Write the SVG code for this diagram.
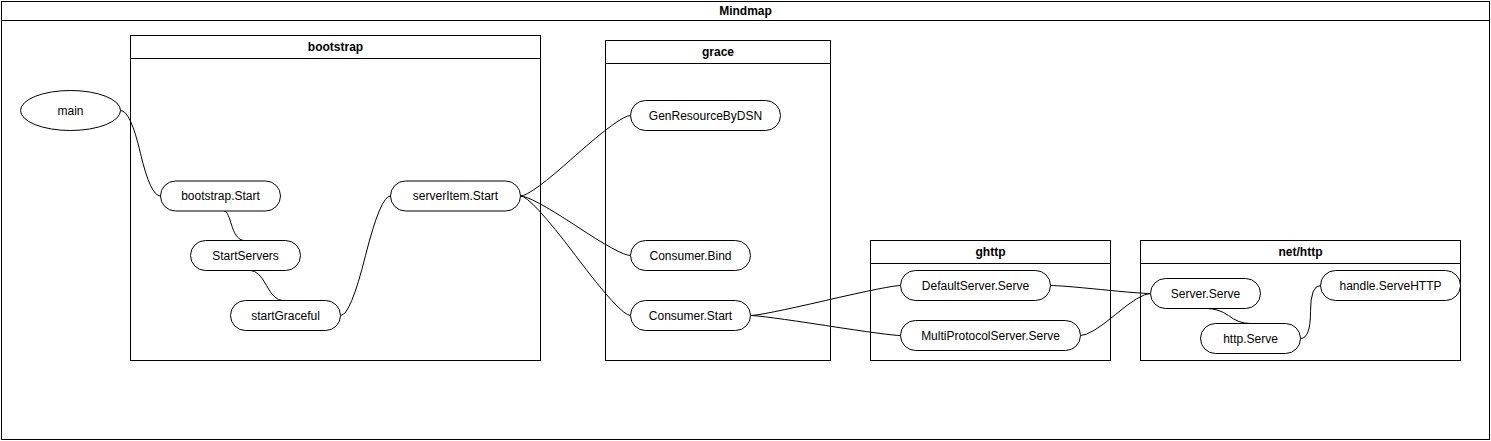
<svg xmlns="http://www.w3.org/2000/svg" width="1491" height="441" viewBox="0 0 1491 441">
<style>
.box{fill:#fff;stroke:#000;stroke-width:1}
.hdr{fill:none;stroke:#000;stroke-width:1}
.node{fill:#fff;stroke:#000;stroke-width:1}
.title{font-family:"Liberation Sans",Arial,sans-serif;font-size:12px;font-weight:bold;fill:#000;text-anchor:middle;dominant-baseline:central}
.lbl{font-family:"Liberation Sans",Arial,sans-serif;font-size:12px;fill:#000;text-anchor:middle;dominant-baseline:central}
.edge{fill:none;stroke:#000;stroke-width:1}
</style>
<rect width="1491" height="441" fill="#fff"/>
<g id="frame-mindmap">
<rect class="box" x="1.5" y="1.5" width="1488" height="438"/>
<line class="hdr" x1="1.5" y1="20.5" x2="1489.5" y2="20.5"/>
<text class="title" x="745.5" y="11">Mindmap</text>
</g>
<g id="lane-bootstrap">
<rect class="box" x="130.5" y="35.5" width="410" height="325"/>
<line class="hdr" x1="130.5" y1="58.5" x2="540.5" y2="58.5"/>
<text class="title" x="335.5" y="47">bootstrap</text>
</g>
<g id="lane-grace">
<rect class="box" x="605.5" y="40.5" width="225" height="320"/>
<line class="hdr" x1="605.5" y1="63.5" x2="830.5" y2="63.5"/>
<text class="title" x="718" y="52">grace</text>
</g>
<g id="lane-ghttp">
<rect class="box" x="870.5" y="240.5" width="240" height="120"/>
<line class="hdr" x1="870.5" y1="263.5" x2="1110.5" y2="263.5"/>
<text class="title" x="990.5" y="252">ghttp</text>
</g>
<g id="lane-nethttp">
<rect class="box" x="1140.5" y="240.5" width="320" height="120"/>
<line class="hdr" x1="1140.5" y1="263.5" x2="1460.5" y2="263.5"/>
<text class="title" x="1300.5" y="252">net/http</text>
</g>
<g id="connectors">
<path class="edge" d="M120.5,110.5 Q130.5,110.5 140.5,153.5 Q150.5,196 160.5,196"/>
<path class="edge" d="M223.5,210.5 C232,212 230,238 243.5,240.5"/>
<path class="edge" d="M250.5,270.5 Q258.5,270.5 266.5,285.5 Q274.5,300.5 282.5,300.5"/>
<path class="edge" d="M340.5,315.5 Q350.5,315.5 365.5,255.5 Q380.5,196 390.5,196"/>
<path class="edge" d="M520.5,196 Q530.5,196 575.5,155.5 Q620.5,115.5 630.5,115.5"/>
<path class="edge" d="M520.5,196 Q530.5,196 575.5,225.5 Q620.5,255.5 630.5,255.5"/>
<path class="edge" d="M520.5,196 Q530.5,196 575.5,255.5 Q620.5,315.5 630.5,315.5"/>
<path class="edge" d="M750.5,315.5 Q760.5,315.5 825.5,300.5 Q890.5,285.5 900.5,285.5"/>
<path class="edge" d="M750.5,315.5 Q760.5,315.5 825.5,325.5 Q890.5,335.5 900.5,335.5"/>
<path class="edge" d="M1050.5,285.5 Q1060.5,285.5 1100.5,289.5 Q1140.5,293.5 1150.5,293.5"/>
<path class="edge" d="M1080.5,335.5 Q1090.5,335.5 1115.5,314.5 Q1140.5,293.5 1150.5,293.5"/>
<path class="edge" d="M1206.5,308.5 Q1218.5,308.5 1228.5,315.5 Q1238.5,323.5 1250.5,323.5"/>
<path class="edge" d="M1300.5,338.5 Q1310.5,338.5 1310.5,311.5 Q1310.5,285.5 1320.5,285.5"/>
</g>
<g id="node-main">
<ellipse class="node" cx="70.5" cy="110.5" rx="50" ry="20"/>
<text class="lbl" x="70.5" y="110.5">main</text>
</g>
<g id="node-bootstrap-start">
<rect class="node" x="160.5" y="181" width="120" height="30" rx="15"/>
<text class="lbl" x="220.5" y="196">bootstrap.Start</text>
</g>
<g id="node-startservers">
<rect class="node" x="190.5" y="240.5" width="110" height="30" rx="15"/>
<text class="lbl" x="245.5" y="255.5">StartServers</text>
</g>
<g id="node-startgraceful">
<rect class="node" x="230.5" y="300.5" width="110" height="30" rx="15"/>
<text class="lbl" x="285.5" y="315.5">startGraceful</text>
</g>
<g id="node-serveritem-start">
<rect class="node" x="390.5" y="181" width="130" height="30" rx="15"/>
<text class="lbl" x="455.5" y="196">serverItem.Start</text>
</g>
<g id="node-genresource">
<rect class="node" x="630.5" y="100.5" width="150" height="30" rx="15"/>
<text class="lbl" x="705.5" y="115.5">GenResourceByDSN</text>
</g>
<g id="node-consumer-bind">
<rect class="node" x="630.5" y="240.5" width="120" height="30" rx="15"/>
<text class="lbl" x="690.5" y="255.5">Consumer.Bind</text>
</g>
<g id="node-consumer-start">
<rect class="node" x="630.5" y="300.5" width="120" height="30" rx="15"/>
<text class="lbl" x="690.5" y="315.5">Consumer.Start</text>
</g>
<g id="node-defaultserver-serve">
<rect class="node" x="900.5" y="270.5" width="150" height="30" rx="15"/>
<text class="lbl" x="975.5" y="285.5">DefaultServer.Serve</text>
</g>
<g id="node-multiprotocol-serve">
<rect class="node" x="900.5" y="320.5" width="180" height="30" rx="15"/>
<text class="lbl" x="990.5" y="335.5">MultiProtocolServer.Serve</text>
</g>
<g id="node-server-serve">
<rect class="node" x="1150.5" y="278.5" width="110" height="30" rx="15"/>
<text class="lbl" x="1205.5" y="293.5">Server.Serve</text>
</g>
<g id="node-http-serve">
<rect class="node" x="1200.5" y="323.5" width="100" height="30" rx="15"/>
<text class="lbl" x="1250.5" y="338.5">http.Serve</text>
</g>
<g id="node-handle-servehttp">
<rect class="node" x="1320.5" y="270.5" width="140" height="30" rx="15"/>
<text class="lbl" x="1390.5" y="285.5">handle.ServeHTTP</text>
</g>
</svg>
